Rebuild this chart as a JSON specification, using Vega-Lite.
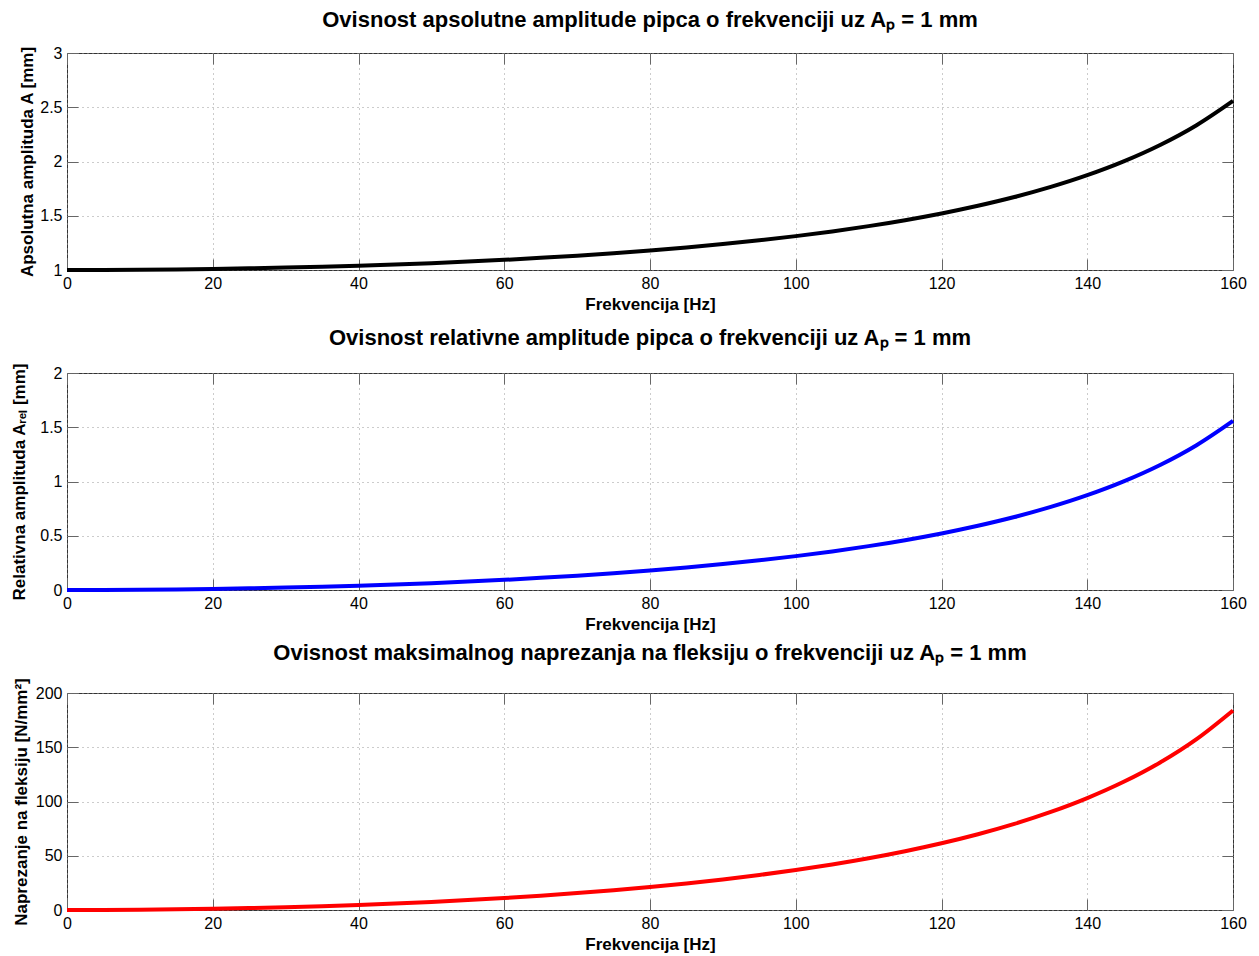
{
  "$schema": "https://vega.github.io/schema/vega-lite/v6.json",
  "background": "white",
  "padding": {"left": 9, "top": 8, "right": 5, "bottom": 0},
  "bounds": "flush",
  "spacing": 103,
  "datasets": {
    "d": [
      {"f": 0, "A": 1.0, "rel": 0.0, "sigma": 0.0},
      {"f": 5, "A": 1.0006, "rel": 0.0006, "sigma": 0.07},
      {"f": 10, "A": 1.0024, "rel": 0.0024, "sigma": 0.28},
      {"f": 15, "A": 1.0054, "rel": 0.0054, "sigma": 0.64},
      {"f": 20, "A": 1.0096, "rel": 0.0096, "sigma": 1.13},
      {"f": 25, "A": 1.0151, "rel": 0.0151, "sigma": 1.78},
      {"f": 30, "A": 1.0219, "rel": 0.0219, "sigma": 2.58},
      {"f": 35, "A": 1.03, "rel": 0.03, "sigma": 3.54},
      {"f": 40, "A": 1.0396, "rel": 0.0396, "sigma": 4.67},
      {"f": 45, "A": 1.0506, "rel": 0.0506, "sigma": 5.97},
      {"f": 50, "A": 1.0633, "rel": 0.0633, "sigma": 7.46},
      {"f": 55, "A": 1.0776, "rel": 0.0776, "sigma": 9.15},
      {"f": 60, "A": 1.0937, "rel": 0.0937, "sigma": 11.06},
      {"f": 65, "A": 1.1118, "rel": 0.1118, "sigma": 13.19},
      {"f": 70, "A": 1.132, "rel": 0.132, "sigma": 15.57},
      {"f": 75, "A": 1.1545, "rel": 0.1545, "sigma": 18.24},
      {"f": 80, "A": 1.1796, "rel": 0.1796, "sigma": 21.2},
      {"f": 85, "A": 1.2076, "rel": 0.2076, "sigma": 24.5},
      {"f": 90, "A": 1.2388, "rel": 0.2388, "sigma": 28.17},
      {"f": 95, "A": 1.2735, "rel": 0.2735, "sigma": 32.27},
      {"f": 100, "A": 1.3123, "rel": 0.3123, "sigma": 36.85},
      {"f": 105, "A": 1.3556, "rel": 0.3556, "sigma": 41.97},
      {"f": 110, "A": 1.4043, "rel": 0.4043, "sigma": 47.71},
      {"f": 115, "A": 1.4592, "rel": 0.4592, "sigma": 54.19},
      {"f": 120, "A": 1.5213, "rel": 0.5213, "sigma": 61.51},
      {"f": 125, "A": 1.5919, "rel": 0.5919, "sigma": 69.84},
      {"f": 130, "A": 1.6726, "rel": 0.6726, "sigma": 79.37},
      {"f": 135, "A": 1.7658, "rel": 0.7658, "sigma": 90.36},
      {"f": 140, "A": 1.874, "rel": 0.874, "sigma": 103.14},
      {"f": 145, "A": 2.0012, "rel": 1.0012, "sigma": 118.14},
      {"f": 150, "A": 2.1524, "rel": 1.1524, "sigma": 135.98},
      {"f": 155, "A": 2.3347, "rel": 1.3347, "sigma": 157.5},
      {"f": 160, "A": 2.5586, "rel": 1.5586, "sigma": 183.92}
    ]
  },
  "vconcat": [
    {
      "title": {"text": "Ovisnost apsolutne amplitude pipca o frekvenciji uz Aₚ = 1 mm"},
      "width": 1166,
      "height": 217,
      "data": {"name": "d"},
      "layer": [
        {
          "mark": {"type": "line", "color": "#000000", "strokeWidth": 4, "interpolate": "monotone"},
          "encoding": {
            "x": {"field": "f", "type": "quantitative", "scale": {"domain": [0, 160], "nice": false},
                  "axis": {"orient": "bottom", "title": "Frekvencija [Hz]", "values": [0, 20, 40, 60, 80, 100, 120, 140, 160], "format": "~r"}},
            "y": {"field": "A", "type": "quantitative", "scale": {"domain": [1, 3], "nice": false, "zero": false},
                  "axis": {"orient": "left", "title": "Apsolutna amplituda A [mm]", "titleX": -40, "values": [1, 1.5, 2, 2.5, 3], "format": "~r"}}
          }
        },
        {
          "mark": {"type": "line", "opacity": 0},
          "encoding": {
            "x": {"field": "f", "type": "quantitative", "axis": {"orient": "top", "labels": false, "grid": false, "title": null, "values": [0, 20, 40, 60, 80, 100, 120, 140, 160]}},
            "y": {"field": "A", "type": "quantitative", "axis": {"orient": "right", "labels": false, "grid": false, "title": null, "values": [1, 1.5, 2, 2.5, 3]}}
          }
        }
      ],
      "resolve": {"axis": {"x": "independent", "y": "independent"}}
    },
    {
      "title": {"text": "Ovisnost relativne amplitude pipca o frekvenciji uz Aₚ = 1 mm"},
      "width": 1166,
      "height": 217,
      "data": {"name": "d"},
      "layer": [
        {
          "mark": {"type": "line", "color": "#0000ff", "strokeWidth": 4, "interpolate": "monotone"},
          "encoding": {
            "x": {"field": "f", "type": "quantitative", "scale": {"domain": [0, 160], "nice": false},
                  "axis": {"orient": "bottom", "title": "Frekvencija [Hz]", "values": [0, 20, 40, 60, 80, 100, 120, 140, 160], "format": "~r"}},
            "y": {"field": "rel", "type": "quantitative", "scale": {"domain": [0, 2], "nice": false},
                  "axis": {"orient": "left", "title": "Relativna amplituda Aᵣₑₗ [mm]", "titleX": -48, "values": [0, 0.5, 1, 1.5, 2], "format": "~r"}}
          }
        },
        {
          "mark": {"type": "line", "opacity": 0},
          "encoding": {
            "x": {"field": "f", "type": "quantitative", "axis": {"orient": "top", "labels": false, "grid": false, "title": null, "values": [0, 20, 40, 60, 80, 100, 120, 140, 160]}},
            "y": {"field": "rel", "type": "quantitative", "axis": {"orient": "right", "labels": false, "grid": false, "title": null, "values": [0, 0.5, 1, 1.5, 2]}}
          }
        }
      ],
      "resolve": {"axis": {"x": "independent", "y": "independent"}}
    },
    {
      "title": {"text": "Ovisnost maksimalnog naprezanja na fleksiju o frekvenciji uz Aₚ = 1 mm"},
      "width": 1166,
      "height": 217,
      "data": {"name": "d"},
      "layer": [
        {
          "mark": {"type": "line", "color": "#ff0000", "strokeWidth": 4, "interpolate": "monotone"},
          "encoding": {
            "x": {"field": "f", "type": "quantitative", "scale": {"domain": [0, 160], "nice": false},
                  "axis": {"orient": "bottom", "title": "Frekvencija [Hz]", "values": [0, 20, 40, 60, 80, 100, 120, 140, 160], "format": "~r"}},
            "y": {"field": "sigma", "type": "quantitative", "scale": {"domain": [0, 200], "nice": false},
                  "axis": {"orient": "left", "title": "Naprezanje na fleksiju [N/mm²]", "titleX": -46, "values": [0, 50, 100, 150, 200], "format": "~r"}}
          }
        },
        {
          "mark": {"type": "line", "opacity": 0},
          "encoding": {
            "x": {"field": "f", "type": "quantitative", "axis": {"orient": "top", "labels": false, "grid": false, "title": null, "values": [0, 20, 40, 60, 80, 100, 120, 140, 160]}},
            "y": {"field": "sigma", "type": "quantitative", "axis": {"orient": "right", "labels": false, "grid": false, "title": null, "values": [0, 50, 100, 150, 200]}}
          }
        }
      ],
      "resolve": {"axis": {"x": "independent", "y": "independent"}}
    }
  ],
  "config": {
    "font": "Liberation Sans",
    "view": {"stroke": "#333333", "strokeWidth": 1},
    "axis": {
      "domain": false,
      "labelFont": "Liberation Sans",
      "labelFontSize": 16,
      "labelColor": "#000000",
      "titleFont": "Liberation Sans",
      "titleFontSize": 17,
      "titleFontWeight": "bold",
      "titleColor": "#000000",
      "tickColor": "#666666",
      "tickSize": -11,
      "tickWidth": 1,
      "gridColor": "#999999",
      "gridDash": [1, 4],
      "gridWidth": 1,
      "labelFlush": false,
      "labelOverlap": false,
      "labelPadding": 16
    },
    "axisX": {"titleY": 34, "titleBaseline": "middle"},
    "axisY": {"titleBaseline": "middle"},
    "title": {
      "font": "Liberation Sans",
      "fontSize": 22,
      "fontWeight": "bold",
      "color": "#000000",
      "anchor": "middle",
      "frame": "group",
      "baseline": "alphabetic",
      "offset": 13
    }
  }
}
